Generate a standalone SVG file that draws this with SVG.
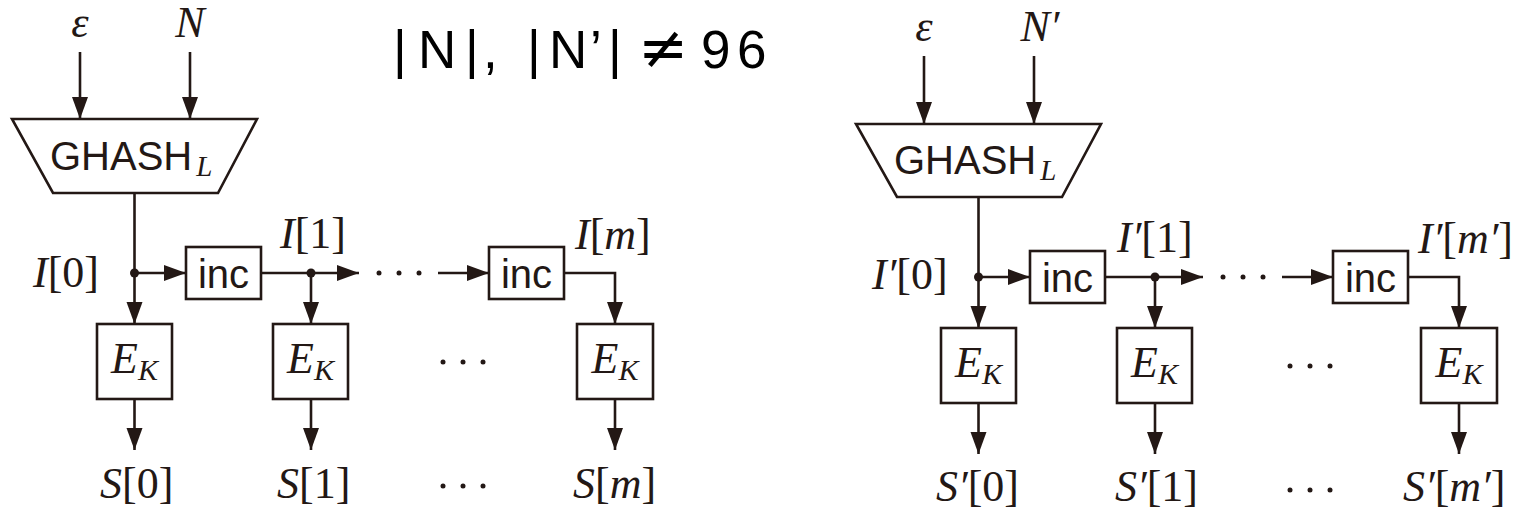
<svg xmlns="http://www.w3.org/2000/svg" width="1529" height="513" viewBox="0 0 1529 513">
<defs>
<marker id="arr" markerUnits="userSpaceOnUse" markerWidth="23" markerHeight="17" refX="22" refY="8" orient="auto">
<path d="M0,0 L22,8 L0,16 z" fill="#231815"/>
</marker>
<style>
.box{fill:#fff;stroke:#231815;stroke-width:2.6}
.ln{fill:none;stroke:#231815;stroke-width:2.6}
.ar{fill:none;stroke:#231815;stroke-width:2.6;marker-end:url(#arr)}
.dot{fill:#231815}
.m{font-family:"Liberation Serif","DejaVu Serif",serif;font-size:44px;fill:#231815}
.i{font-style:italic}
.sans{font-family:"Liberation Sans","DejaVu Sans",sans-serif;fill:#231815}
.title{font-family:"Liberation Sans","Open Sans",sans-serif;font-size:53px;fill:#000}
</style>
</defs>
<rect width="1529" height="513" fill="#fff"/>

<text class="title" x="393 418 465 483 500 527 549 590 608 625" y="68">|N|, |N’| <tspan x="638" font-family="DejaVu Sans, sans-serif" font-size="60">≠</tspan><tspan x="695"> </tspan><tspan x="701">9</tspan><tspan x="737">6</tspan></text>

<g id="connectors">
<!-- left -->
<line class="ar" x1="80" y1="52" x2="80" y2="119"/>
<line class="ar" x1="190" y1="52" x2="190" y2="119"/>
<line class="ar" x1="134.5" y1="193" x2="134.5" y2="324"/>
<line class="ar" x1="134.5" y1="273" x2="186" y2="273"/>
<line class="ar" x1="261" y1="273" x2="359" y2="273"/>
<line class="ar" x1="311" y1="273" x2="311" y2="324"/>
<line class="ar" x1="438" y1="273" x2="489" y2="273"/>
<polyline class="ar" points="564,273 615,273 615,324"/>
<line class="ar" x1="134.5" y1="399" x2="134.5" y2="450"/>
<line class="ar" x1="311" y1="399" x2="311" y2="450"/>
<line class="ar" x1="615" y1="399" x2="615" y2="450"/>
<circle class="dot" cx="134.5" cy="273" r="4.5"/>
<circle class="dot" cx="311" cy="273" r="4.5"/>
<!-- right -->
<line class="ar" x1="924" y1="56" x2="924" y2="124"/>
<line class="ar" x1="1034" y1="56" x2="1034" y2="124"/>
<line class="ar" x1="978.5" y1="197" x2="978.5" y2="328"/>
<line class="ar" x1="978.5" y1="277" x2="1030" y2="277"/>
<line class="ar" x1="1105" y1="277" x2="1203" y2="277"/>
<line class="ar" x1="1155" y1="277" x2="1155" y2="328"/>
<line class="ar" x1="1282" y1="277" x2="1333" y2="277"/>
<polyline class="ar" points="1408,277 1459,277 1459,328"/>
<line class="ar" x1="978.5" y1="403" x2="978.5" y2="454"/>
<line class="ar" x1="1155" y1="403" x2="1155" y2="454"/>
<line class="ar" x1="1459" y1="403" x2="1459" y2="454"/>
<circle class="dot" cx="978.5" cy="277" r="4.5"/>
<circle class="dot" cx="1155" cy="277" r="4.5"/>
</g>

<!-- LEFT DIAGRAM -->
<g id="in-eps-L"><text class="m i" x="80" y="37" text-anchor="middle">ε</text></g>
<g id="in-N-L"><text class="m i" x="190" y="37" text-anchor="middle">N</text></g>
<g id="ghash-L">
<polygon class="box" points="12,119 257,119 218,193 53,193"/>
<text class="sans" x="50" y="170" font-size="40">GHASH<tspan font-family="Liberation Serif, serif" font-style="italic" font-size="29" dx="4" dy="6">L</tspan></text>
</g>
<g id="inc-L1">
<rect class="box" x="186" y="247" width="75" height="52"/>
<text class="sans" x="223.5" y="288" font-size="40" text-anchor="middle">inc</text>
</g>
<g id="inc-Lm">
<rect class="box" x="489" y="247" width="75" height="52"/>
<text class="sans" x="526.5" y="288" font-size="40" text-anchor="middle">inc</text>
</g>
<g id="ek-L0">
<rect class="box" x="97" y="324" width="75" height="75"/>
<text class="m i" x="134.5" y="373" text-anchor="middle" font-size="46">E<tspan font-size="30" dy="7">K</tspan></text>
</g>
<g id="ek-L1">
<rect class="box" x="273" y="324" width="75" height="75"/>
<text class="m i" x="310.5" y="373" text-anchor="middle" font-size="46">E<tspan font-size="30" dy="7">K</tspan></text>
</g>
<g id="ek-Lm">
<rect class="box" x="577" y="324" width="76" height="75"/>
<text class="m i" x="615" y="373" text-anchor="middle" font-size="46">E<tspan font-size="30" dy="7">K</tspan></text>
</g>
<g id="labels-L">
<text class="m" x="33" y="287"><tspan class="i">I</tspan>[0]</text>
<text class="m" x="280" y="248"><tspan class="i">I</tspan>[1]</text>
<text class="m" x="575" y="249"><tspan class="i">I</tspan>[<tspan class="i">m</tspan>]</text>
<text class="m" x="100" y="498"><tspan class="i">S</tspan>[0]</text>
<text class="m" x="277" y="498"><tspan class="i">S</tspan>[1]</text>
<text class="m" x="573" y="498"><tspan class="i">S</tspan>[<tspan class="i">m</tspan>]</text>
<circle class="dot" cx="379" cy="273" r="2.5"/><circle class="dot" cx="399" cy="273" r="2.5"/><circle class="dot" cx="419" cy="273" r="2.5"/>
<circle class="dot" cx="443" cy="362" r="2.5"/><circle class="dot" cx="463" cy="362" r="2.5"/><circle class="dot" cx="483" cy="362" r="2.5"/>
<circle class="dot" cx="443" cy="486" r="2.5"/><circle class="dot" cx="463" cy="486" r="2.5"/><circle class="dot" cx="483" cy="486" r="2.5"/>
</g>

<!-- RIGHT DIAGRAM -->
<g id="in-eps-R"><text class="m i" x="924" y="41" text-anchor="middle">ε</text></g>
<g id="in-N-R"><text class="m i" x="1040" y="41" text-anchor="middle">N′</text></g>
<g id="ghash-R">
<polygon class="box" points="856,124 1101,124 1062,197 897,197"/>
<text class="sans" x="894" y="174" font-size="40">GHASH<tspan font-family="Liberation Serif, serif" font-style="italic" font-size="29" dx="4" dy="6">L</tspan></text>
</g>
<g id="inc-R1">
<rect class="box" x="1030" y="251" width="75" height="52"/>
<text class="sans" x="1067.5" y="292" font-size="40" text-anchor="middle">inc</text>
</g>
<g id="inc-Rm">
<rect class="box" x="1333" y="251" width="75" height="52"/>
<text class="sans" x="1370.5" y="292" font-size="40" text-anchor="middle">inc</text>
</g>
<g id="ek-R0">
<rect class="box" x="941" y="328" width="75" height="75"/>
<text class="m i" x="978.5" y="377" text-anchor="middle" font-size="46">E<tspan font-size="30" dy="7">K</tspan></text>
</g>
<g id="ek-R1">
<rect class="box" x="1117" y="328" width="75" height="75"/>
<text class="m i" x="1154.5" y="377" text-anchor="middle" font-size="46">E<tspan font-size="30" dy="7">K</tspan></text>
</g>
<g id="ek-Rm">
<rect class="box" x="1421" y="328" width="76" height="75"/>
<text class="m i" x="1459" y="377" text-anchor="middle" font-size="46">E<tspan font-size="30" dy="7">K</tspan></text>
</g>
<g id="labels-R">
<text class="m" x="872" y="289"><tspan class="i">I′</tspan>[0]</text>
<text class="m" x="1117" y="252"><tspan class="i">I′</tspan>[1]</text>
<text class="m" x="1418" y="253"><tspan class="i">I′</tspan>[<tspan class="i">m′</tspan>]</text>
<text class="m" x="936" y="501"><tspan class="i">S′</tspan>[0]</text>
<text class="m" x="1115" y="501"><tspan class="i">S′</tspan>[1]</text>
<text class="m" x="1403" y="501"><tspan class="i">S′</tspan>[<tspan class="i">m′</tspan>]</text>
<circle class="dot" cx="1223" cy="277" r="2.5"/><circle class="dot" cx="1243" cy="277" r="2.5"/><circle class="dot" cx="1263" cy="277" r="2.5"/>
<circle class="dot" cx="1290" cy="366" r="2.5"/><circle class="dot" cx="1310" cy="366" r="2.5"/><circle class="dot" cx="1330" cy="366" r="2.5"/>
<circle class="dot" cx="1290" cy="490" r="2.5"/><circle class="dot" cx="1310" cy="490" r="2.5"/><circle class="dot" cx="1330" cy="490" r="2.5"/>
</g>
</svg>
